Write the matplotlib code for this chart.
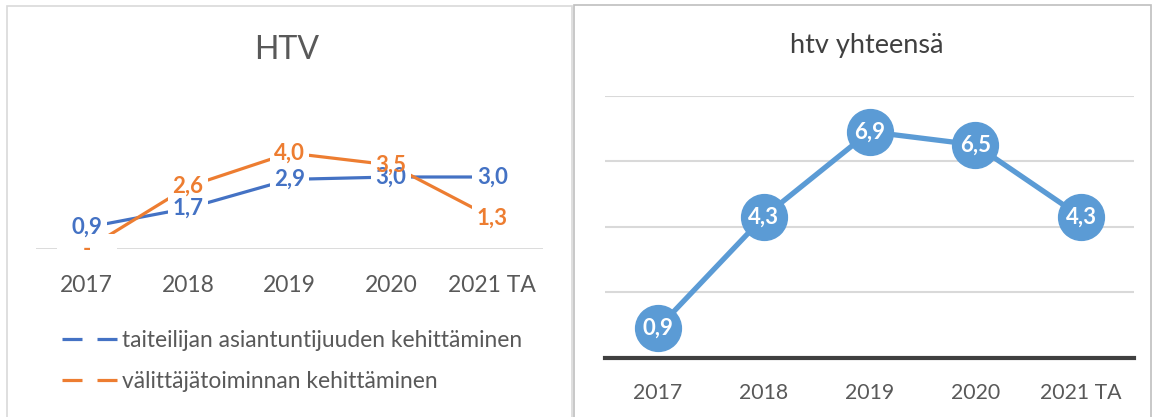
import numpy as np
import matplotlib
matplotlib.use("Agg")
import matplotlib.pyplot as plt
from matplotlib.lines import Line2D
from matplotlib.patches import Rectangle

plt.rcParams["font.family"] = ["Lato", "DejaVu Sans"]
plt.rcParams["lines.scale_dashes"] = False

# Data
years = ["2017", "2018", "2019", "2020", "2021 TA"]
taiteilija = [0.9, 1.7, 2.9, 3.0, 3.0]
valittaja = [0.0, 2.6, 4.0, 3.5, 1.3]
yhteensa = [0.9, 4.3, 6.9, 6.5, 4.3]

name_taiteilija = "taiteilijan asiantuntijuuden kehittäminen"
name_valittaja = "välittäjätoiminnan kehittäminen"

blue = "#4472C4"
orange = "#ED7D31"
blue2 = "#5B9BD5"
gray_txt = "#595959"


def fmt(v):
    if v == 0:
        return "-"
    return f"{v:.1f}".replace(".", ",")


W, H = 1154, 417
fig = plt.figure(figsize=(W / 100, H / 100), dpi=100)


def px_axes(x0, x1, ybase, ytop):
    # pikselit -> kuvan koordinaatit
    return fig.add_axes([x0 / W, (H - ybase) / H, (x1 - x0) / W, (ybase - ytop) / H])


# paneelien reunat
fig.add_artist(Rectangle((6.7 / W, -0.1), (572 - 6.7) / W, (H - 5.7) / H + 0.1,
                         transform=fig.transFigure, fill=False, ec="#D9D9D9", lw=1.2))
fig.add_artist(Rectangle((574 / W, -0.1), 0.5, (H - 4.5) / H + 0.1,
                         transform=fig.transFigure, fill=False, ec="#BFBFBF", lw=1.2))

# ---------- vasen: HTV ----------
ax1 = px_axes(36, 543, 249, 81)
x = np.arange(len(years))
ax1.set_xlim(-0.5, len(years) - 0.5)
ax1.set_ylim(0, 7)
ax1.axhline(0, color="#D9D9D9", lw=1.3, zorder=1)
ax1.plot(x, taiteilija, color=blue, lw=2.3, zorder=2, solid_capstyle="butt")
ax1.plot(x, valittaja, color=orange, lw=2.3, zorder=2, solid_capstyle="butt")

# arvojen taustalaatikot peittävät viivat, eivät toisia arvoja
for series, col, z in [(taiteilija, blue, 5), (valittaja, orange, 6)]:
    for xi, v in zip(x, series):
        box_txt = "    -    " if v == 0 else fmt(v)
        ax1.text(xi, v, box_txt, color="white", fontsize=16, fontweight="bold", ha="center",
                 va="center", zorder=2.2, bbox=dict(boxstyle="square,pad=0.2", fc="white", ec="none"))
        ax1.text(xi, v, fmt(v), color=col, fontsize=16, fontweight="bold", ha="center",
                 va="center", zorder=z)

ax1.set_xticks(x)
ax1.set_xticklabels(years, fontsize=16.5, color=gray_txt)
ax1.tick_params(axis="x", length=0, pad=19)
ax1.set_yticks([])
for s in ax1.spines.values():
    s.set_visible(False)
ax1.patch.set_alpha(0)
fig.text(287 / W, 1 - 50 / H, "HTV", fontsize=23, color=gray_txt, ha="center", va="center")

handles = [Line2D([], [], color=blue, lw=2.3, dashes=(14.4, 10.8)),
           Line2D([], [], color=orange, lw=2.3, dashes=(14.4, 10.8))]
fig.legend(handles, [name_taiteilija, name_valittaja], loc="center left",
           bbox_to_anchor=(62 / W, 1 - 361 / H), frameon=False, fontsize=16.4,
           labelcolor=gray_txt, handlelength=2.4, handletextpad=0.22, labelspacing=0.85,
           borderpad=0, borderaxespad=0)

# ---------- oikea: htv yhteensä ----------
ax2 = px_axes(605, 1134, 357.7, 95.7)
ax2.set_xlim(-0.5, len(years) - 0.5)
ax2.set_ylim(0, 8)
ax2.set_yticks([2, 4, 6, 8])
ax2.yaxis.grid(True, color="#D9D9D9", lw=1.5)
ax2.set_axisbelow(True)
ax2.plot(x, yhteensa, color=blue2, lw=3.8, marker="o", markersize=33, zorder=3)
for xi, v in zip(x, yhteensa):
    ax2.text(xi, v, fmt(v), color="white", fontsize=16, fontweight="bold",
             ha="center", va="center", zorder=4)
ax2.set_xticks(x)
ax2.set_xticklabels(years, fontsize=15.3, color=gray_txt)
ax2.tick_params(axis="x", length=0, pad=18)
ax2.tick_params(axis="y", length=0, labelleft=False)
for s in ax2.spines.values():
    s.set_visible(False)
ax2.spines["bottom"].set_visible(True)
ax2.spines["bottom"].set_color("#404040")
ax2.spines["bottom"].set_linewidth(3)
ax2.patch.set_alpha(0)
fig.text(867 / W, 1 - 46 / H, "htv yhteensä", fontsize=19.5, color="#404040", ha="center", va="center")

fig.savefig("out.png", dpi=100, facecolor="white")
